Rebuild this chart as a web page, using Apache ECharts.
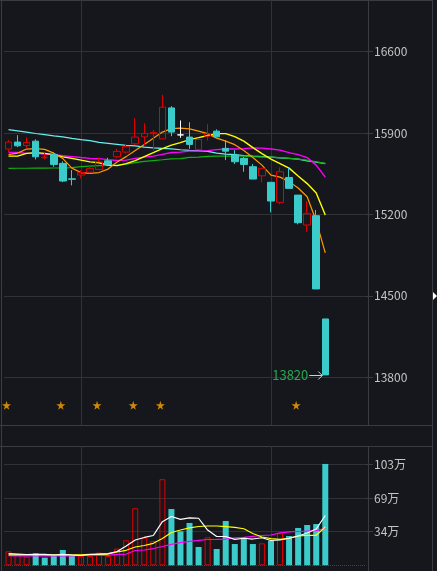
<!DOCTYPE html>
<html>
<head>
<meta charset="utf-8">
<style type="text/css">
html, body {margin: 0; padding: 0; background: #15171c;}
#chart {width: 437px; height: 571px;}
</style>
</head>
<body>
<div id="chart"></div>
<script src="https://cdn.jsdelivr.net/npm/echarts@6/dist/echarts.min.js"></script>
<script>

// K线: [开, 收, 低, 高]
let candles = [
    [15763, 15823, 15737, 15840], [15823, 15791, 15780, 15883], [15794, 15820, 15769, 15863],
    [15831, 15697, 15674, 15846], [15689, 15693, 15674, 15731], [15717, 15631, 15611, 15734],
    [15640, 15488, 15479, 15657], [15507, 15503, 15451, 15582], [15539, 15562, 15511, 15582],
    [15565, 15597, 15554, 15625], [15588, 15653, 15582, 15691], [15662, 15631, 15631, 15688],
    [15697, 15743, 15685, 15765], [15737, 15786, 15722, 15808], [15808, 15866, 15800, 16029],
    [15868, 15897, 15794, 15986], [15894, 15906, 15751, 15928], [15851, 16123, 15849, 16229],
    [16117, 15909, 15874, 16132], [15885, 15885, 15860, 16009], [15866, 15803, 15765, 15994],
    [15760, 15846, 15760, 15846], [15874, 15894, 15837, 15977], [15917, 15868, 15868, 15932],
    [15769, 15745, 15668, 15840], [15711, 15654, 15634, 15754], [15683, 15631, 15568, 15694],
    [15611, 15505, 15505, 15634], [15533, 15597, 15477, 15597], [15477, 15316, 15219, 15479],
    [15305, 15568, 15288, 15606], [15519, 15425, 15425, 15602], [15367, 15130, 15116, 15367],
    [15110, 15210, 15052, 15316], [15190, 14560, 14560, 15239], [14302, 13821, 13820, 14302]
];

let ma5 = [15715, 15728, 15763, 15767, 15760, 15728, 15681, 15599, 15561, 15554, 15561, 15591,
    15651, 15698, 15751, 15803, 15857, 15909, 15939, 15943, 15937, 15917, 15896, 15857,
    15831, 15801, 15750, 15690, 15625, 15539, 15522, 15483, 15428, 15353, 15144, 14870];
let ma10 = [15702, 15702, 15726, 15732, 15726, 15715, 15696, 15683, 15668, 15653, 15645, 15625,
    15621, 15638, 15664, 15698, 15732, 15767, 15797, 15818, 15844, 15861, 15880, 15896,
    15896, 15870, 15831, 15775, 15724, 15677, 15638, 15599, 15531, 15466, 15385, 15196];
let ma20 = [15734, 15734, 15726, 15726, 15720, 15715, 15705, 15698, 15690, 15683, 15681, 15672,
    15665, 15668, 15683, 15694, 15702, 15717, 15734, 15737, 15745, 15745, 15750, 15758,
    15763, 15763, 15767, 15773, 15771, 15763, 15754, 15732, 15715, 15690, 15625, 15522];
let ma30 = [15597, 15598, 15598, 15599, 15599, 15600, 15601, 15603, 15612, 15617, 15621, 15623,
    15625, 15634, 15647, 15657, 15664, 15671, 15679, 15681, 15691, 15694, 15700, 15702,
    15702, 15702, 15702, 15698, 15696, 15694, 15690, 15683, 15677, 15668, 15653, 15640];
let ma60 = [15930, 15920, 15909, 15897, 15887, 15877, 15868, 15855, 15844, 15836, 15820, 15812,
    15803, 15794, 15790, 15780, 15774, 15769, 15765, 15757, 15751, 15747, 15743, 15728,
    15720, 15715, 15707, 15702, 15698, 15694, 15687, 15683, 15677, 15662, 15651, 15638];

// 成交量 (万), 1 = 红色空心
let vols = [14.3, 11.2, 8.8, 12.2, 7.8, 9.5, 15.6, 9.5, 9.5, 9.5, 12.9, 9.5,
    17, 25.5, 58.2, 28.2, 24.8, 87.8, 57.4, 34.7, 43.2, 18.7, 28.6, 16.6,
    45.2, 21.7, 28.6, 21.7, 22.4, 25.1, 32.7, 29.9, 38.1, 41.1, 42.1, 103.4];
let volUp = [1, 1, 1, 0, 0, 0, 0, 0, 1, 1, 1, 1, 1, 1, 1, 1, 1, 1,
    0, 0, 0, 0, 1, 0, 0, 0, 0, 0, 1, 0, 1, 0, 0, 0, 0, 0];
let volMa5 = [12.0, 11.5, 11.0, 11.2, 11.2, 10.5, 11.2, 10.5, 10.0, 11.0, 11.5, 12.0,
    14.1, 19.7, 25.8, 28.4, 30.4, 44.5, 49.8, 46.9, 48.3, 48.0, 36.0, 29.4,
    29.4, 26.5, 27.6, 26.8, 28.1, 25.3, 25.8, 27.6, 29.9, 33.0, 37.0, 50.8];
let volMa10 = [10.7, 10.7, 10.7, 10.7, 10.7, 10.7, 10.7, 10.7, 10.7, 11.2, 11.2, 11.5,
    13.6, 15.3, 18.7, 20.2, 22.4, 27.3, 33.5, 36.0, 38.1, 39.6, 40.1, 40.1,
    39.4, 38.6, 37.3, 32.4, 28.9, 27.3, 26.5, 27.6, 29.9, 30.6, 30.6, 39.1];
let volMa20 = [9.8, 9.5, 9.5, 9.5, 9.5, 9.5, 9.5, 9.7, 10.2, 10.2, 10.2, 10.2,
    11.2, 11.5, 15.1, 15.6, 17.1, 19.2, 21.4, 23.1, 24.5, 25.5, 26.3, 26.5,
    26.8, 27.9, 28.6, 29.6, 30.4, 30.9, 33.0, 34.0, 34.5, 35.0, 35.3, 37.8];

let starIdx = [0, 6, 10, 14, 17, 32];
let starLevel = 13559;
let lowMark = 13820;
let priceTicks = [13800, 14500, 15200, 15900, 16600];
let volTicks = [34.33, 68.67, 103];
let splitIdx = [8, 29];

// 40 个位置, 右侧留空
let cats = [];
for (let n = 0; n < 40; n++) {
    cats.push('d' + n);
}

const RED = '#e00000';
const CYAN = '#3bcbcb';
const GRID = '#303238';
const FRAME = '#3a3c42';
const FONT = '"Noto Sans CJK SC", "Noto Sans", sans-serif';

let chart = echarts.init(document.getElementById('chart'));

function maLine(data, color, width, xi) {
    return {
        type: 'line', data: data, xAxisIndex: xi, yAxisIndex: xi,
        showSymbol: false, silent: true, z: 3,
        lineStyle: {color: color, width: width}
    };
}

function frameLine(x1, y1, x2, y2) {
    return {type: 'line', silent: true, shape: {x1, y1, x2, y2}, style: {stroke: FRAME, lineWidth: 1}};
}

let vLines = {
    silent: true, symbol: 'none', z: 1,
    label: {show: false},
    lineStyle: {color: GRID, type: 'solid', width: 1},
    data: splitIdx.map(i => ({xAxis: i}))
};

let option = {
    backgroundColor: '#15171c',
    animation: false,
    grid: [
        {left: 4, top: 0, width: 362, height: 425, outerBoundsMode: 'none'},
        {left: 4, top: 446, width: 362, height: 119.3, outerBoundsMode: 'none'}
    ],
    xAxis: [0, 1].map(g => ({
        type: 'category', gridIndex: g, data: cats, boundaryGap: true,
        axisLine: {show: false}, axisTick: {show: false},
        axisLabel: {show: false}, splitLine: {show: false}
    })),
    yAxis: [{
        type: 'value', gridIndex: 0, position: 'right', min: 13390, max: 17045,
        axisLine: {show: false},
        axisTick: {show: true, length: 7, customValues: priceTicks, lineStyle: {color: FRAME}},
        axisLabel: {
            customValues: priceTicks, color: '#c4c4c4', fontSize: 12, margin: 8, fontFamily: FONT,
            formatter: v => String(v)
        },
        splitLine: {show: true, lineStyle: {color: GRID}}
    }, {
        type: 'value', gridIndex: 1, position: 'right', min: 0, max: 121.7,
        axisLine: {show: false},
        axisTick: {show: true, length: 7, customValues: volTicks, lineStyle: {color: FRAME}},
        axisLabel: {
            customValues: volTicks, color: '#c4c4c4', fontSize: 12, margin: 8, fontFamily: FONT,
            formatter: v => Math.round(v) + '万'
        },
        splitLine: {show: true, lineStyle: {color: GRID}}
    }],
    graphic: [
        frameLine(0, 0.5, 432, 0.5),
        frameLine(0, 425.5, 432, 425.5),
        frameLine(0, 446.5, 432, 446.5),
        frameLine(1.5, 0, 1.5, 571),
        frameLine(368.5, 0, 368.5, 425),
        frameLine(368.5, 446, 368.5, 571),
        frameLine(432.5, 0, 432.5, 571),
        {type: 'polygon', shape: {points: [[433, 292], [437, 296], [433, 300]]}, style: {fill: '#ffffff'}}
    ],
    series: [
        {
            type: 'candlestick', xAxisIndex: 0, yAxisIndex: 0, data: candles,
            barWidth: 7, z: 4,
            itemStyle: {
                color: 'transparent', color0: CYAN,
                borderColor: RED, borderColor0: CYAN, borderColorDoji: '#ffffff',
                borderWidth: 1
            }
        },
        maLine(ma60, '#66f0f0', 1.2, 0),
        maLine(ma30, '#12b012', 1.2, 0),
        maLine(ma20, '#ff00ff', 1.4, 0),
        maLine(ma10, '#ffff00', 1.4, 0),
        maLine(ma5, '#ff9a00', 1.2, 0),
        {
            type: 'scatter', xAxisIndex: 0, yAxisIndex: 0, z: 3,
            data: starIdx.map(i => [i, starLevel]),
            symbol: 'path://M50,0 L61,35 L98,35 L68,57 L79,91 L50,70 L21,91 L32,57 L2,35 L39,35 Z',
            symbolSize: 9, symbolOffset: [-2, 0],
            itemStyle: {color: '#ffa500'},
            markLine: vLines
        },
        {
            type: 'custom', xAxisIndex: 0, yAxisIndex: 0, z: 6, silent: true,
            data: [[candles.length - 1, lowMark]],
            renderItem: (params, api) => {
                let p = api.coord([api.value(0), api.value(1)]);
                let y = Math.round(p[1]) + 0.5;
                let x1 = p[0] - 16, x2 = p[0] - 3;
                return {
                    type: 'group',
                    children: [
                        {type: 'line', shape: {x1, y1: y, x2, y2: y}, style: {stroke: '#d0d0d0', lineWidth: 1}},
                        {type: 'polyline', shape: {points: [[x2 - 4, y - 4], [x2, y], [x2 - 4, y + 4]]},
                            style: {stroke: '#d0d0d0', fill: null, lineWidth: 1}},
                        {type: 'text', style: {
                            text: String(api.value(1)), x: x1 - 1, y: y,
                            align: 'right', verticalAlign: 'middle',
                            fill: '#27a850', font: '13px ' + FONT
                        }}
                    ]
                };
            }
        },
        {
            type: 'bar', xAxisIndex: 1, yAxisIndex: 1, barWidth: 6, z: 2,
            data: vols.map((v, i) => ({
                value: v,
                itemStyle: volUp[i] ? {color: 'transparent', borderColor: RED, borderWidth: 1} : {color: CYAN}
            })),
            markLine: {
                silent: true, symbol: 'none', z: 1,
                label: {show: false},
                data: splitIdx.map(i => ({xAxis: i, lineStyle: {color: GRID, type: 'solid', width: 1}}))
                    .concat([{yAxis: 0, lineStyle: {color: RED, type: 'dotted', width: 1}}])
            }
        },
        maLine(volMa20, '#ff00ff', 1.2, 1),
        maLine(volMa10, '#ffff00', 1.2, 1),
        maLine(volMa5, '#ffffff', 1.2, 1)
    ]
};

chart.setOption(option);

</script>
</body>
</html>
